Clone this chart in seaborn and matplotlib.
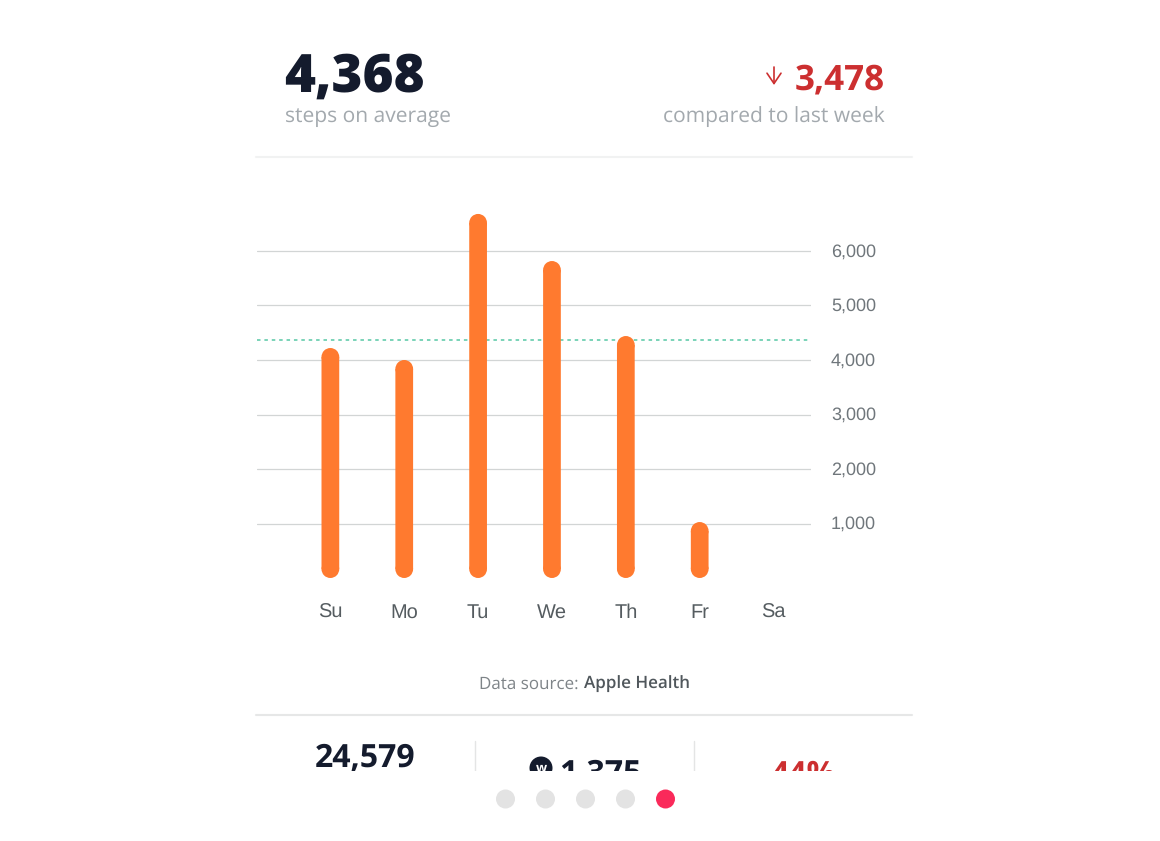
import matplotlib
matplotlib.use("Agg")
import matplotlib.pyplot as plt
from matplotlib.patches import Ellipse, Rectangle
import pandas as pd
import seaborn as sns

# data
days = ["Su", "Mo", "Tu", "We", "Th", "Fr", "Sa"]
steps = [4220, 4000, 6680, 5816, 4440, 1027, 0]
grid_ticks = [1000, 2000, 3000, 4000, 5000, 6000]
average = 4368

W, H = 1160, 841
ORANGE = "#FF7A2F"
NAVY = "#141B2D"
RED = "#CC2F30"
GREY = "#A3A9AE"

sns.set_theme(style="white")
plt.rcParams["font.family"] = ["Open Sans", "DejaVu Sans"]
plt.rcParams["text.hinting"] = "no_hinting"
plt.rcParams["text.hinting_factor"] = 1

fig = plt.figure(figsize=(W / 100, H / 100), dpi=100, facecolor="white")

# chart axes, placed in pixels
left, right, top, bottom = 256.5, 810.5, 200, 578
ax = fig.add_axes([left / W, 1 - bottom / H, (right - left) / W, (bottom - top) / H])

df = pd.DataFrame({"day": days, "steps": steps})
sns.barplot(data=df, x="day", y="steps", color=ORANGE, width=0.24, saturation=1, ax=ax, zorder=3)
ax.set_xlim(-1, 6.5)
ax.set_ylim(0, (bottom - top) / 0.0545)

# round off both ends of each bar
px_x = (right - left) / 7.5
px_y = (bottom - top) / ax.get_ylim()[1]
for bar in list(ax.patches):
    x, y, w, h = bar.get_x(), bar.get_y(), bar.get_width(), bar.get_height()
    if h <= 0:
        continue
    r = (w / 2) * px_x / px_y
    bar.set_y(y + r)
    bar.set_height(h - 2 * r)
    bar.set_snap(False)
    bar.set_linewidth(0)
    for cy in [y + r, y + h - r]:
        ax.add_patch(Ellipse((x + w / 2, cy), w, 2 * r, fc=ORANGE, ec="none", lw=0, zorder=3))

for t in grid_ticks:
    ax.axhline(t, color="#D2D5D5", lw=0.9, zorder=1)
    ax.text(6.5 + 20.5 / px_x, t - 1 / px_y, f"{t:,}", ha="left", va="center", fontsize=12.8,
            family="Liberation Sans", color="#6F767B")
ax.axhline(average, color="#7AD3B8", lw=1.4, dashes=(1.8, 2.0), zorder=2)

ax.set_xlabel("")
ax.set_ylabel("")
ax.set_yticks([])
ax.set_xticks([])
for i, d in enumerate(days):
    ax.text(i, -40 / px_y, d, ha="center", va="baseline", fontsize=14.6,
            family="Liberation Sans", color="#555C60")
sns.despine(ax=ax, left=True, bottom=True)
ax.patch.set_alpha(0)

# overlay in pixel coordinates for the card around the chart
ov = fig.add_axes([0, 0, 1, 1], zorder=5)
ov.set_xlim(0, W)
ov.set_ylim(H, 0)
ov.axis("off")

ov.text(284, 78, "4,368", fontsize=38, fontweight="heavy", color=NAVY, va="center", ha="left")
ov.text(285, 116.5, "steps on average", fontsize=15, color=GREY, va="center", ha="left")
ov.text(885, 80, "3,478", fontsize=25, fontweight="bold", color=RED, va="center", ha="right")
ov.text(885, 116.5, "compared to last week", fontsize=15, color=GREY, va="center", ha="right")
ov.annotate("", xy=(774, 85), xytext=(774, 67),
            arrowprops=dict(arrowstyle="->,head_width=0.42,head_length=0.62", color=RED, lw=1.2,
                            shrinkA=0, shrinkB=0))

ov.plot([256, 912], [157, 157], color="#F1F2F2", lw=1.5)
ov.plot([256, 912], [715, 715], color="#E6E7E7", lw=1.5)

ov.text(579, 684.5, "Data source:", fontsize=12.5, color="#7E8488", va="center", ha="right")
ov.text(584, 684.5, "Apple Health", fontsize=12.5, fontweight="semibold", color="#50575C", va="center", ha="left")

# bottom row, cut off by the pager strip
ov.text(365, 759, "24,579", fontsize=23, fontweight="bold", color=NAVY, va="center", ha="center")
ov.add_patch(Ellipse((541, 768), 23, 23, fc=NAVY, ec="none"))
ov.text(541, 769, "w", fontsize=9, fontweight="bold", color="white", va="center", ha="center")
ov.text(600, 775, "1,375", fontsize=23, fontweight="bold", color=NAVY, va="center", ha="center")
ov.text(803, 775, "44%", fontsize=23, fontweight="bold", color=RED, va="center", ha="center")
for x in [475, 694]:
    ov.plot([x, x], [741, 772], color="#E4E5E5", lw=1)
ov.add_patch(Rectangle((0, 771), W, H - 771, fc="white", ec="none", zorder=4))

for x, c in zip([505.5, 545.5, 585.5, 625.5, 665.5], ["#E3E3E3"] * 4 + ["#FA2A5A"]):
    ov.add_patch(Ellipse((x, 799), 19, 19, fc=c, ec="none", zorder=5))

fig.savefig("out.png", dpi=100, facecolor="white")
